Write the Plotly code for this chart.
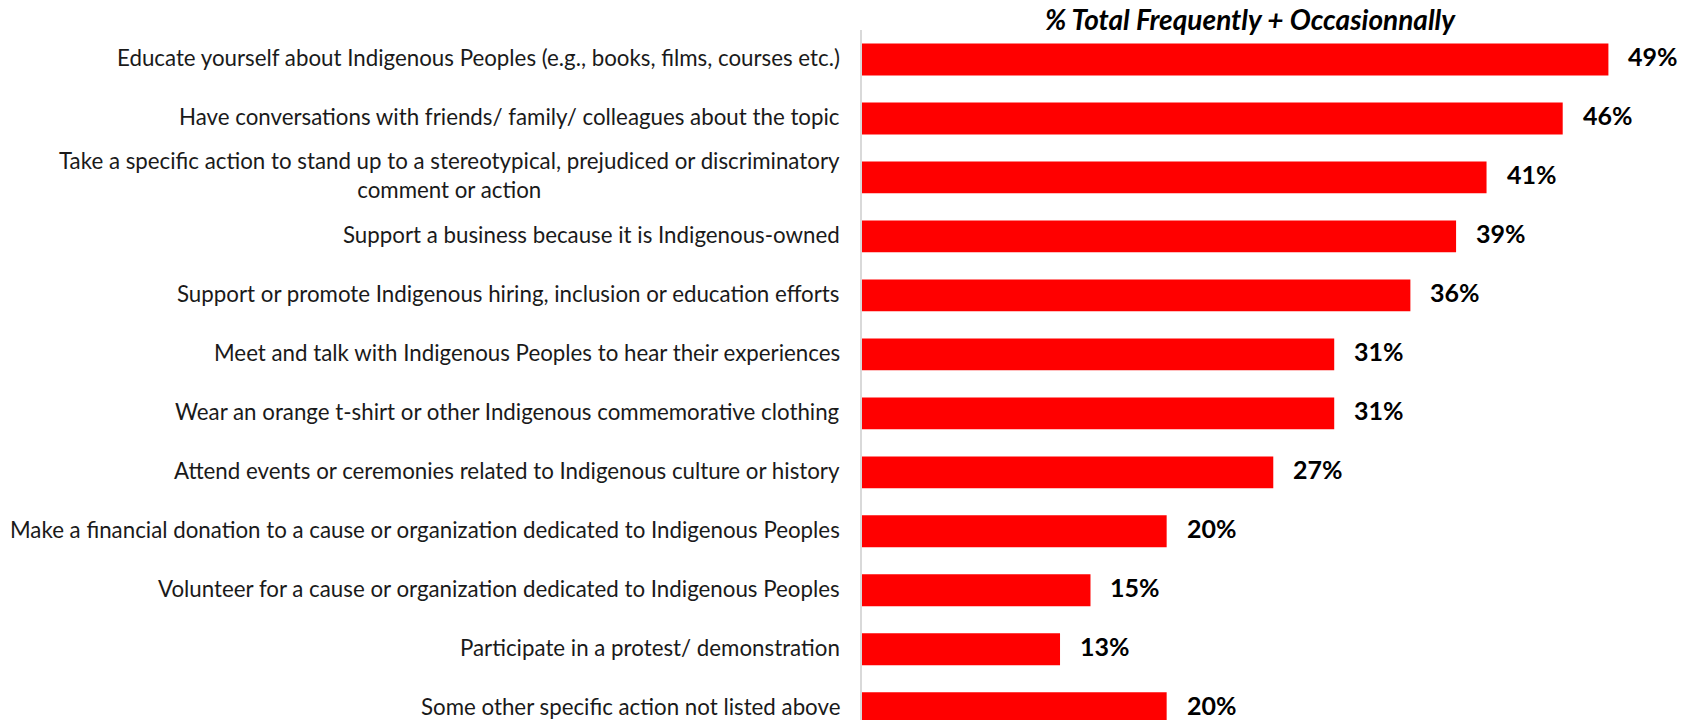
import plotly.graph_objects as go

actions = [
    "Educate yourself about Indigenous Peoples (e.g., books, films, courses etc.)",
    "Have conversations with friends/ family/ colleagues about the topic",
    "Take a specific action to stand up to a stereotypical, prejudiced or discriminatory<br>comment or action",
    "Support a business because it is Indigenous-owned",
    "Support or promote Indigenous hiring, inclusion or education efforts",
    "Meet and talk with Indigenous Peoples to hear their experiences",
    "Wear an orange t-shirt or other Indigenous commemorative clothing",
    "Attend events or ceremonies related to Indigenous culture or history",
    "Make a financial donation to a cause or organization dedicated to Indigenous Peoples",
    "Volunteer for a cause or organization dedicated to Indigenous Peoples",
    "Participate in a protest/ demonstration",
    "Some other specific action not listed above",
]
pct = [49, 46, 41, 39, 36, 31, 31, 27, 20, 15, 13, 20]

pos = list(range(len(actions)))

fig = go.Figure(go.Bar(
    x=pct,
    y=pos,
    orientation='h',
    marker=dict(color='#ff0000', line=dict(width=0)),
    width=0.54,
    hoverinfo='skip',
))

# category labels, centred lines like the source
for p, label in zip(pos, actions):
    fig.add_annotation(
        x=0, y=p, xref='x', yref='y',
        text=label, showarrow=False,
        xanchor='right', xshift=-20, yshift=2, align='center',
        font=dict(family='Lato', size=22.3, color='#1a1a1a'),
    )

# value labels
for p, v in zip(pos, pct):
    fig.add_annotation(
        x=v, y=p, xref='x', yref='y',
        text=f"<b>{v}%</b>", showarrow=False,
        xanchor='left', xshift=18, yshift=3,
        font=dict(family='Lato', size=25, color='black'),
    )

fig.update_layout(
    width=1690, height=720,
    margin=dict(l=862, r=10, t=30, b=0),
    plot_bgcolor='white',
    paper_bgcolor='white',
    showlegend=False,
    title=dict(
        text="<b><i>% Total Frequently + Occasionnally</i></b>",
        x=1250 / 1690, xanchor='center',
        y=1 - 20 / 720, yanchor='middle',
        font=dict(family='Lato', size=28, color='black'),
    ),
    xaxis=dict(range=[0, 53.7], showgrid=False, zeroline=False,
               showticklabels=False, fixedrange=True),
    yaxis=dict(range=[11.2, -0.5], showgrid=False, zeroline=False,
               showticklabels=False, showline=True,
               linecolor='#d9d9d9', linewidth=2),
)

# drop the default body margin so the figure sits at the window corner
fig.write_html("out.html", config={'displayModeBar': False},
               post_script="document.body.style.margin='0';")
